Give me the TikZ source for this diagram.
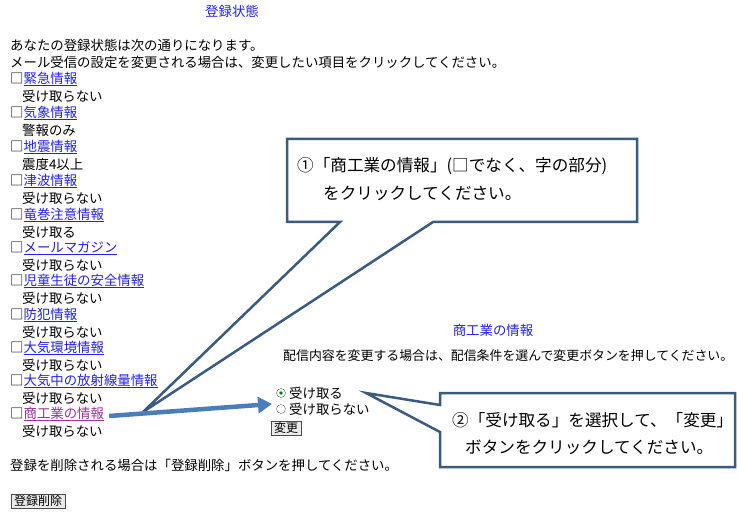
\documentclass[tikz,border=0pt]{standalone}
\usepackage{fontspec}
\setmainfont{Noto Sans CJK JP}
\usetikzlibrary{arrows.meta}
\definecolor{lnk}{HTML}{2222EE}
\definecolor{vis}{HTML}{993399}
\definecolor{cbord}{HTML}{3A5A80}
\definecolor{arr}{HTML}{4A7EBB}
\tikzset{
 t/.style={anchor=west,inner sep=0pt,font=\fontsize{13.4}{13.4}\selectfont},
 big/.style={anchor=west,inner sep=0pt,font=\fontsize{16.6}{16.6}\selectfont},
 callout/.style={draw=cbord,line width=2.5pt,fill=white,line join=miter},
 btn/.style={draw=black!70,fill=black!8,inner xsep=3pt,inner ysep=1.5pt,font=\fontsize{12}{12}\selectfont}
}
\newcommand{\lk}[1]{\textcolor{lnk}{\underline{#1}}}
\begin{document}
\begin{tikzpicture}[x=1pt,y=-1pt]
\useasboundingbox (0,0) rectangle (738,518);
\node[t,anchor=center,text=lnk] (title) at (232,11) {登録状態};
\node[t] (l1) at (10,45) {あなたの登録状態は次の通りになります。};
\node[t] (l2) at (10,62) {メール受信の設定を変更される場合は、変更したい項目をクリックしてください。};
\foreach \y/\a/\b [count=\i] in {79/緊急情報/受け取らない,113/気象情報/警報のみ,147/地震情報/震度4以上,181/津波情報/受け取らない,215/竜巻注意情報/受け取る,248/メールマガジン/受け取らない,281/児童生徒の安全情報/受け取らない,315/防犯情報/受け取らない,348/大気環境情報/受け取らない,381/大気中の放射線量情報/受け取らない}{
 \node[t] (it\i) at (10,\y) {□\lk{\a}};
 \node[t] (v\i) at (22,\y+17) {\b};
}
\node[t] (it11) at (10,414) {□\textcolor{vis}{\underline{商工業の情報}}};
\node[t] (v11) at (22,431) {受け取らない};
\node[t] (del) at (10,465) {登録を削除される場合は「登録削除」ボタンを押してください。};
\node[btn,anchor=west] (delb) at (11,501) {登録削除};

\node[t,anchor=center,text=lnk] (rt) at (493,330) {商工業の情報};
\node[t,font=\fontsize{12.9}{12.9}\selectfont] (rd) at (283,356) {配信内容を変更する場合は、配信条件を選んで変更ボタンを押してください。};
\node[t] (r1) at (289,393) {受け取る};
\node[t] (r2) at (289,409) {受け取らない};
\draw[black!60,fill=white] (281,393) circle (4.5);
\fill[green!50!black] (281,393) circle (1.8);
\draw[black!60,fill=white] (281,409) circle (4.5);
\node[btn,anchor=west] (chg) at (271,428) {変更};

\coordinate (tip1) at (143,412);
\draw[callout] (287,139) -- (637,139) -- (637,222) -- (433,222) -- (tip1) -- (340,222) -- (287,222) -- cycle;
\node[big] (c1a) at (297,166) {①「商工業の情報」(□でなく、字の部分)};
\node[big] (c1b) at (323,193) {をクリックしてください。};

\coordinate (tip2) at (366,393);
\draw[callout] (440,393) -- (735,393) -- (735,467) -- (440,467) -- (440,432) -- (tip2) -- (440,405) -- cycle;
\node[big] (c2a) at (452,420) {②「受け取る」を選択して、「変更」};
\node[big] (c2b) at (465,447) {ボタンをクリックしてください。};

\draw[arr,line width=4.5pt,-{Triangle[length=14pt,width=16pt]}] (it11.east) ++(5,2) coordinate (a0) -- (272,404) coordinate (a1);
\end{tikzpicture}
\end{document}
